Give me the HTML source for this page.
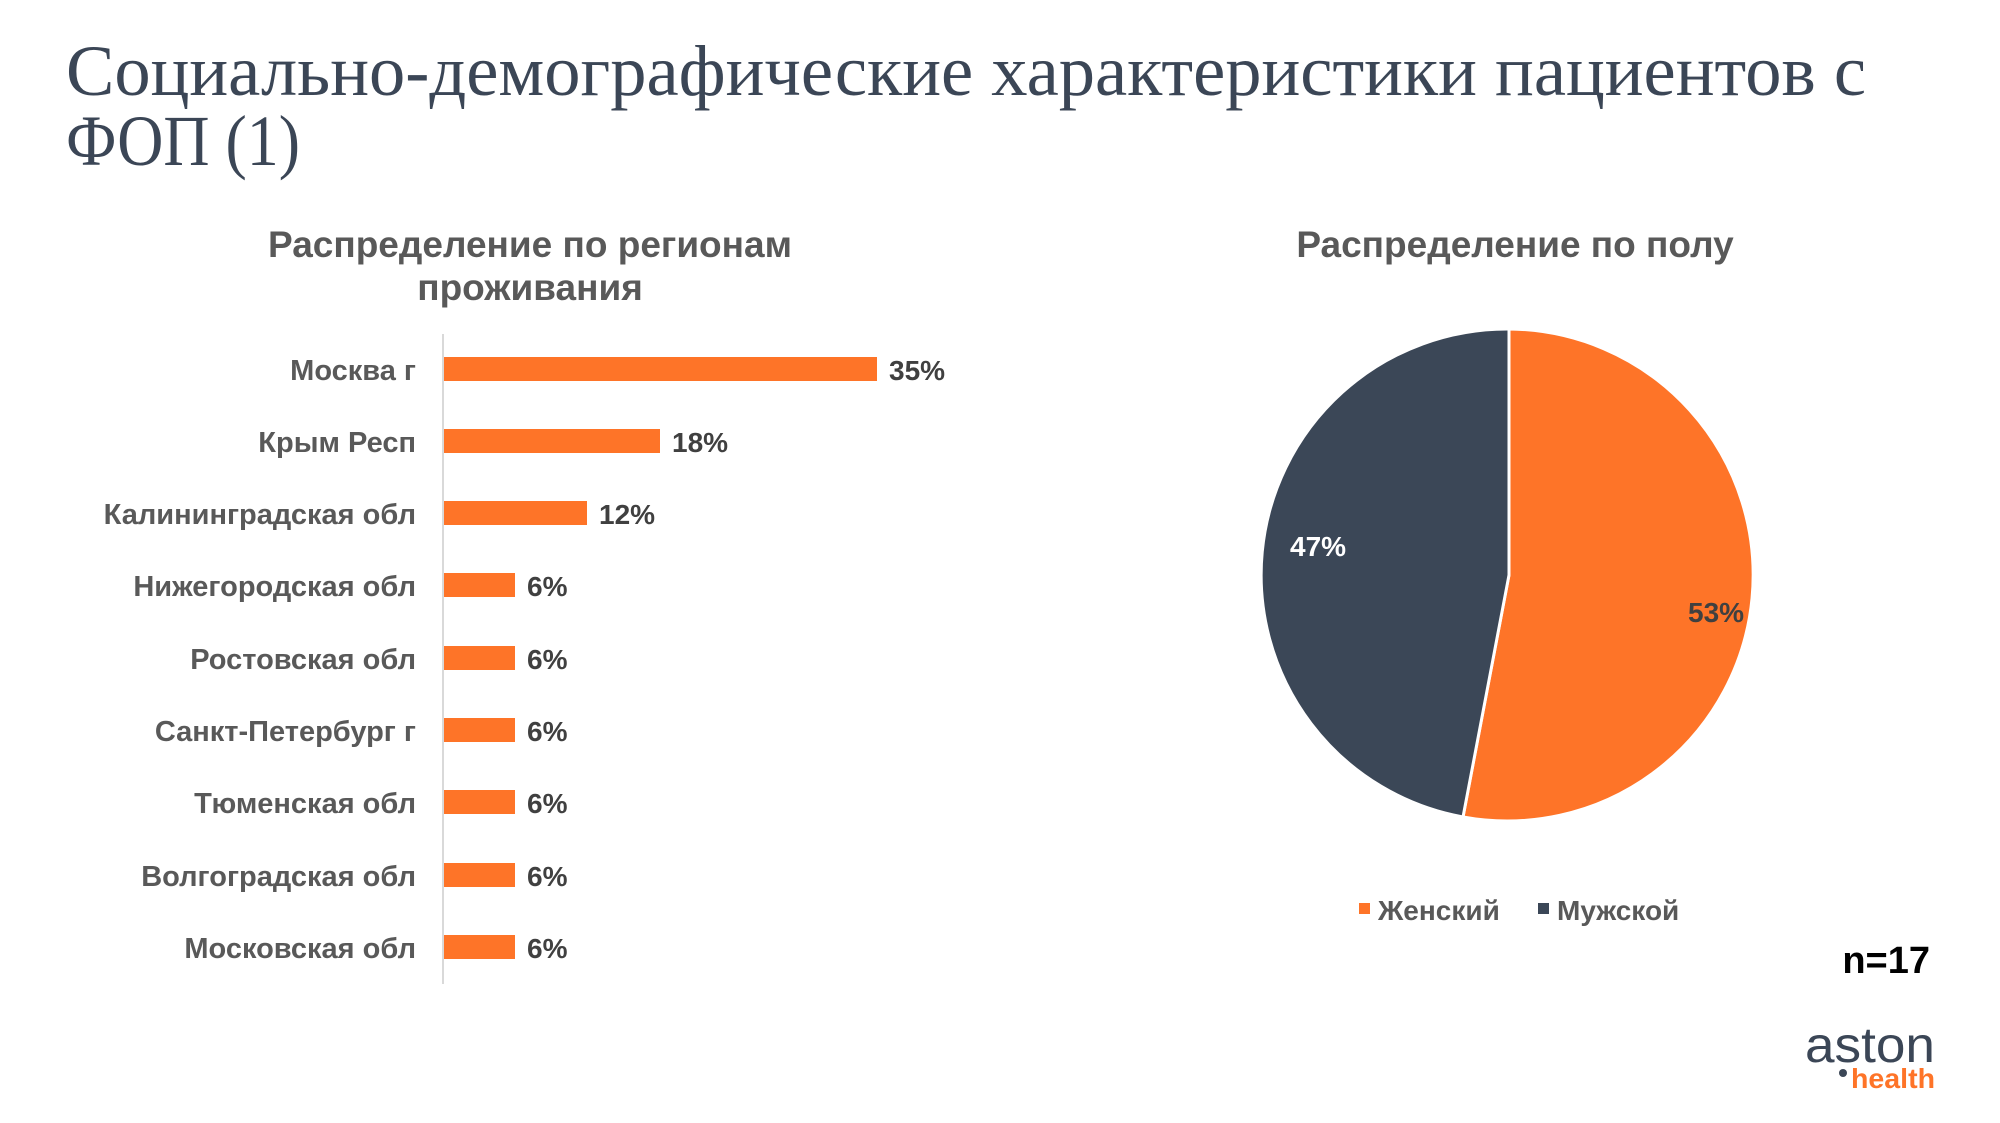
<!DOCTYPE html>
<html><head><meta charset="utf-8"><style>
html,body{margin:0;padding:0;background:#fff;}
svg{display:block;}
.t{font-family:"Liberation Sans","Noto Sans CJK SC",sans-serif;font-weight:bold;}
</style></head><body>
<svg width="2000" height="1123" viewBox="0 0 2000 1123" xmlns="http://www.w3.org/2000/svg">
<g font-family="'Liberation Serif','Noto Serif CJK SC',serif" fill="#3b4656" font-size="72">
<text x="66" y="95" textLength="1800" lengthAdjust="spacingAndGlyphs">Социально-демографические характеристики пациентов с</text>
<text x="66" y="165" textLength="234" lengthAdjust="spacingAndGlyphs">ФОП (1)</text>
</g>
<g class="t" fill="#595959" font-size="37" text-anchor="middle">
<text x="530" y="257">Распределение по регионам</text>
<text x="530" y="300">проживания</text>
<text x="1515" y="257">Распределение по полу</text>
</g>
<line x1="443" y1="334" x2="443" y2="984" stroke="#d9d9d9" stroke-width="2"/>
<g fill="#fe7428">
<rect x="444" y="357" width="433" height="24"/>
<rect x="444" y="429" width="216" height="24"/>
<rect x="444" y="501" width="143" height="24"/>
<rect x="444" y="573" width="71" height="24"/>
<rect x="444" y="646" width="71" height="24"/>
<rect x="444" y="718" width="71" height="24"/>
<rect x="444" y="790" width="71" height="24"/>
<rect x="444" y="863" width="71" height="24"/>
<rect x="444" y="935" width="71" height="24"/>
</g>
<g class="t" fill="#595959" font-size="29" text-anchor="end">
<text x="416" y="380">Москва г</text>
<text x="416" y="452">Крым Респ</text>
<text x="416" y="524">Калининградская обл</text>
<text x="416" y="596">Нижегородская обл</text>
<text x="416" y="669">Ростовская обл</text>
<text x="416" y="741">Санкт-Петербург г</text>
<text x="416" y="813">Тюменская обл</text>
<text x="416" y="886">Волгоградская обл</text>
<text x="416" y="958">Московская обл</text>
</g>
<g class="t" fill="#404040" font-size="28">
<text x="889" y="380">35%</text>
<text x="672" y="452">18%</text>
<text x="599" y="524">12%</text>
<text x="527" y="596">6%</text>
<text x="527" y="669">6%</text>
<text x="527" y="741">6%</text>
<text x="527" y="813">6%</text>
<text x="527" y="886">6%</text>
<text x="527" y="958">6%</text>
</g>
<path d="M1509,575 L1509,329 A246,246 0 1,1 1463,817 Z" fill="#fe7428" stroke="#fff" stroke-width="3" stroke-linejoin="round"/>
<path d="M1509,575 L1463,817 A246,246 0 0,1 1509,329 Z" fill="#3b4757" stroke="#fff" stroke-width="3" stroke-linejoin="round"/>
<text class="t" x="1290" y="556" fill="#fff" font-size="28">47%</text>
<text class="t" x="1688" y="622" fill="#404040" font-size="28">53%</text>
<rect x="1359" y="903" width="11" height="11" fill="#fe7428"/>
<text class="t" x="1378" y="920" fill="#595959" font-size="28">Женский</text>
<rect x="1538" y="903" width="11" height="11" fill="#3b4757"/>
<text class="t" x="1557" y="920" fill="#595959" font-size="28">Мужской</text>
<text class="t" x="1930" y="973" fill="#000" font-size="38" text-anchor="end">n=17</text>
<text x="1805" y="1062" fill="#3b4656" font-family="'Liberation Sans',sans-serif" font-size="50" textLength="130" lengthAdjust="spacingAndGlyphs">aston</text>
<circle cx="1843" cy="1073" r="4" fill="#3b4656"/>
<text class="t" x="1851" y="1088" fill="#fe7428" font-size="28" textLength="84" lengthAdjust="spacingAndGlyphs">health</text>
</svg>
</body></html>
